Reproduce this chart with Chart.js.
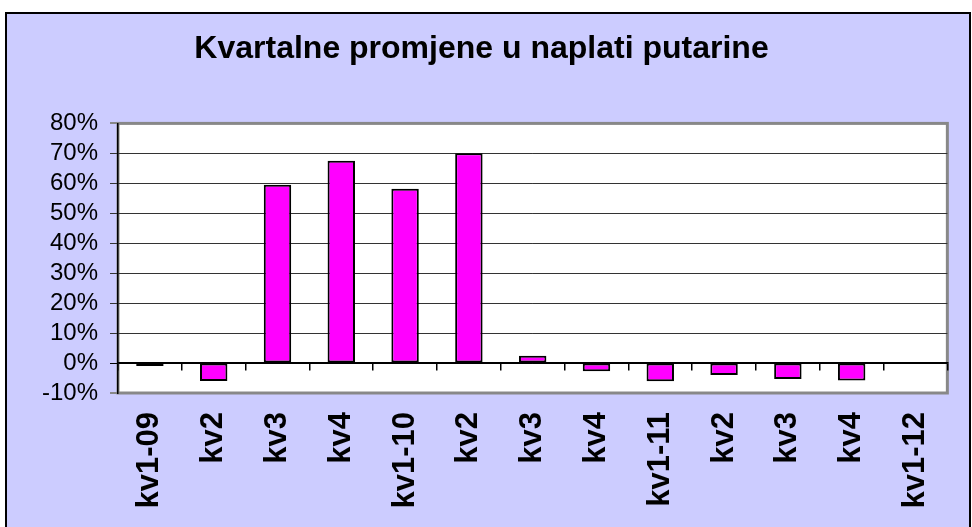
<!DOCTYPE html>
<html lang="hr">
<head>
<meta charset="UTF-8">
<title>Kvartalne promjene u naplati putarine</title>
<script src="https://cdn.jsdelivr.net/npm/chart.js"></script>
<style>
  html, body { margin: 0; padding: 0; background: #fff; }
  body { width: 972px; height: 527px; position: relative; overflow: hidden; }
  .frame {
    position: absolute; left: 5px; top: 12px; width: 962px; height: 530px;
    border: 2px solid #000; background: #ccccff;
  }
  #chart { position: absolute; left: 0; top: 0; }
</style>
</head>
<body>
<div class="frame"></div>
<canvas id="chart" width="972" height="527"></canvas>
<script>
const title = "Kvartalne promjene u naplati putarine";
const quarters = ["kv1-09", "kv2", "kv3", "kv4", "kv1-10", "kv2", "kv3", "kv4", "kv1-11", "kv2", "kv3", "kv4", "kv1-12"];
// promjena u % prema prethodnom kvartalu
const changes = [-1, -6, 59.5, 67.5, 58.2, 70, 2.4, -2.7, -6.1, -4, -5.3, -5.8, null];
const yMin = -10, yMax = 80, yStep = 10;

// white plot area with grey frame
const plotBox = {
  id: "plotBox",
  beforeDraw(chart) {
    const { ctx, chartArea: a } = chart;
    ctx.save();
    ctx.fillStyle = "#fff";
    ctx.fillRect(a.left, a.top, a.right - a.left, a.bottom - a.top);
    ctx.strokeStyle = "#888";
    ctx.lineWidth = 3;
    ctx.strokeRect(a.left, a.top, a.right - a.left, a.bottom - a.top);
    ctx.restore();
  }
};

new Chart(document.getElementById("chart"), {
  type: "bar",
  data: {
    labels: quarters,
    datasets: [{
      data: changes,
      backgroundColor: "#ff00ff",
      borderColor: "#000",
      borderWidth: 2,
      borderSkipped: false,
      barPercentage: 0.43,
      categoryPercentage: 1
    }]
  },
  options: {
    responsive: false,
    animation: false,
    layout: { padding: { left: 0, right: 9, top: 0, bottom: 0 } },
    plugins: {
      legend: { display: false },
      tooltip: { enabled: false },
      title: {
        display: true,
        text: title,
        color: "#000",
        font: { family: "Liberation Sans", size: 32, weight: "bold" },
        padding: { top: 30, bottom: 55 }
      }
    },
    scales: {
      x: {
        offset: true,
        grid: { display: false, drawTicks: false },
        border: { display: false },
        ticks: {
          color: "#000",
          font: { family: "Liberation Sans", size: 31, weight: "bold" },
          minRotation: 90, maxRotation: 90,
          padding: 19,
          autoSkip: false
        },
        afterFit(s) { s.height = 134; }
      },
      x0: {
        type: "category",
        axis: "x",
        position: { y: 0 },
        offset: true,
        ticks: { display: false },
        grid: { offset: true, drawOnChartArea: false, drawTicks: true, tickLength: 7, color: "#000", lineWidth: 1.5 },
        border: { display: true, color: "#000", width: 1.5 },
        afterFit(s) { s.height = 0; }
      },
      y: {
        min: yMin, max: yMax,
        ticks: {
          stepSize: yStep,
          autoSkip: false,
          color: "#000",
          padding: 12,
          font: { family: "Liberation Sans", size: 24 },
          callback: v => v + "%"
        },
        grid: {
          tickLength: 8,
          color: c => (c.tick && (c.tick.value === yMax || c.tick.value === yMin)) ? "#888" : (c.tick && c.tick.value === 0 ? "#000" : "#333"),
          lineWidth: c => (c.tick && (c.tick.value === yMax || c.tick.value === yMin)) ? 2 : 1
        },
        border: { display: true, color: "#000", width: 1.5 },
        afterFit(s) { s.width = 118; }
      }
    }
  },
  plugins: [plotBox]
});
</script>
</body>
</html>
